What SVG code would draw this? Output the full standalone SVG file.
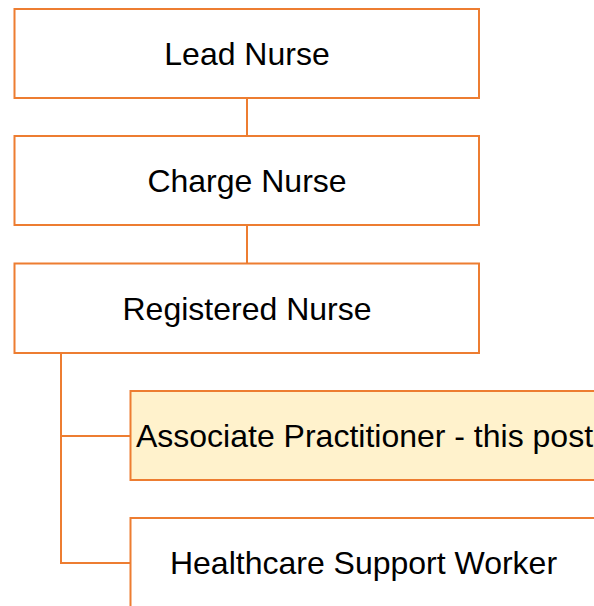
<svg xmlns="http://www.w3.org/2000/svg" width="594" height="606" viewBox="0 0 594 606">
<style>
.box{fill:#FFFFFF;stroke:#ED7D31;stroke-width:2}
.hl{fill:#FFF2CC}
.lbl{font-family:"Liberation Sans",Arial,sans-serif;font-size:32px;fill:#000000;text-anchor:middle}
.con{fill:none;stroke:#ED7D31;stroke-width:2}
</style>
<rect width="594" height="606" fill="#FFFFFF"/>
<g id="connectors">
<line class="con" x1="247" y1="98" x2="247" y2="136"/>
<line class="con" x1="247" y1="225" x2="247" y2="263"/>
<polyline class="con" points="61,353 61,563 130,563"/>
<line class="con" x1="61" y1="436" x2="130" y2="436"/>
</g>
<g id="lead-nurse">
<rect class="box" x="14.5" y="9" width="464.5" height="89"/>
<text class="lbl" x="247" y="65">Lead Nurse</text>
</g>
<g id="charge-nurse">
<rect class="box" x="14.5" y="136" width="464.5" height="89"/>
<text class="lbl" x="247" y="192">Charge Nurse</text>
</g>
<g id="registered-nurse">
<rect class="box" x="14.5" y="263.5" width="464.5" height="89.5"/>
<text class="lbl" x="247" y="319.5">Registered Nurse</text>
</g>
<g id="associate-practitioner">
<rect class="box hl" x="130.5" y="391" width="470" height="89"/>
<text class="lbl" x="364.5" y="446.5">Associate Practitioner - this post</text>
</g>
<g id="healthcare-support-worker">
<rect class="box" x="130.5" y="518" width="470" height="100"/>
<text class="lbl" x="363.5" y="574">Healthcare Support Worker</text>
</g>
</svg>
